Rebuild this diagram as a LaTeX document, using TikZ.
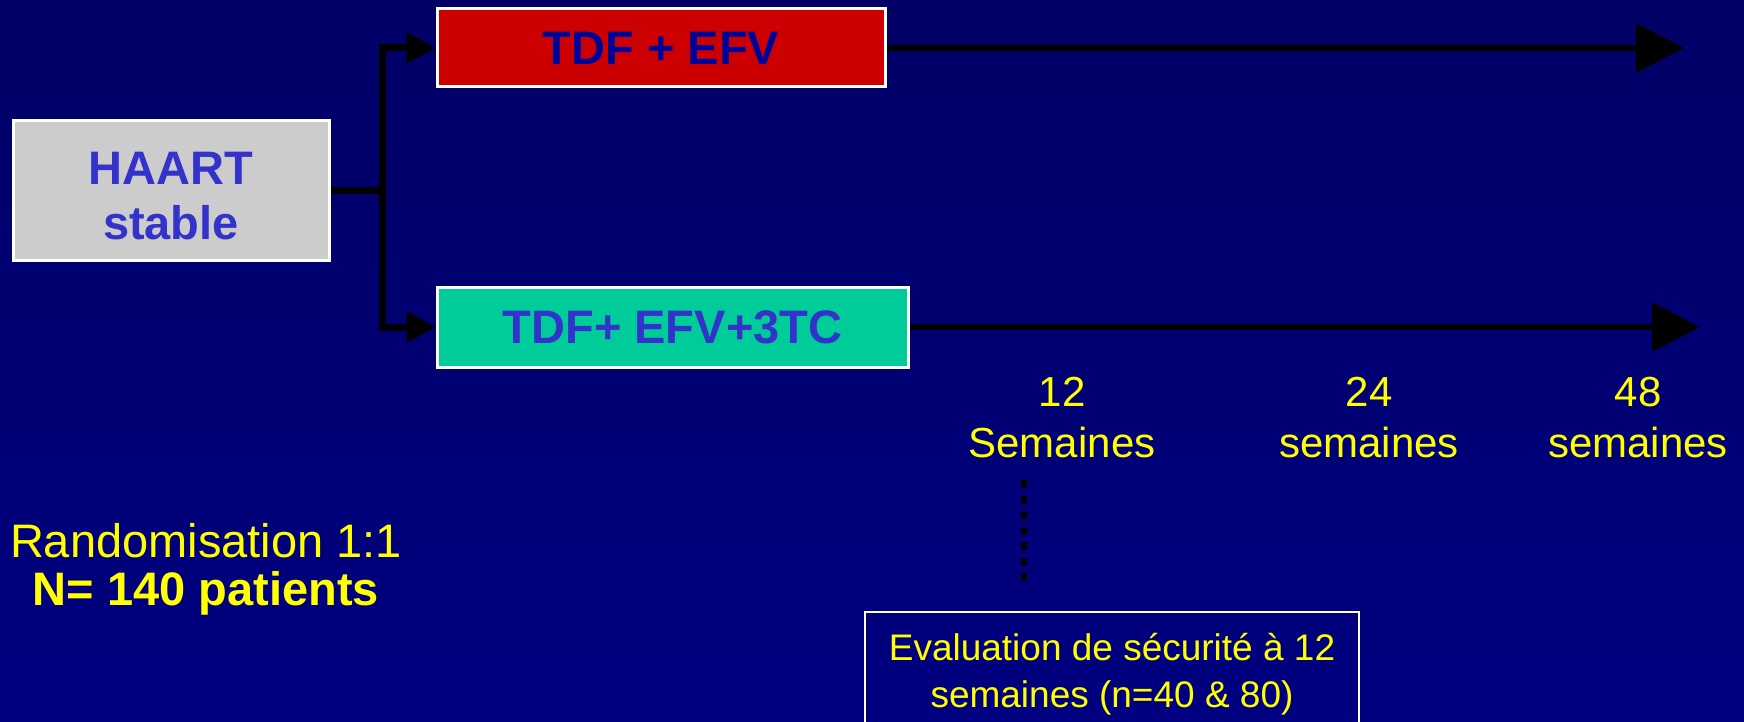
\documentclass[tikz,border=0pt]{standalone}
\usepackage{fontspec}
\setmainfont{Liberation Sans}
\usetikzlibrary{arrows.meta}
\definecolor{bgtop}{RGB}{0,0,102}
\definecolor{bgbot}{RGB}{0,0,128}
\definecolor{boxgray}{RGB}{204,204,204}
\definecolor{boxred}{RGB}{204,0,0}
\definecolor{boxgreen}{RGB}{0,204,153}
\definecolor{txtblue}{RGB}{51,51,204}
\definecolor{txtnavy}{RGB}{0,0,153}
\definecolor{txtyellow}{RGB}{255,255,0}
\tikzset{
  box/.style={draw=white, line width=1.5pt, inner sep=0pt, align=center, font=\fontsize{23.5}{27.5}\selectfont\bfseries},
  branch/.style={line width=3.5pt, -{Triangle[length=14.5pt,width=15pt]}},
  timeline/.style={line width=3.4pt, -{Triangle[length=24pt,width=24pt]}},
  ylabel/.style={text=txtyellow, align=center, inner sep=0pt},
}
\begin{document}
\begin{tikzpicture}[x=0.5pt,y=-0.5pt]
\useasboundingbox (0,0) rectangle (1744,722);
\shade[top color=bgtop, bottom color=bgbot] (0,0) rectangle (1744,722);

\node[box, fill=boxgray, minimum width=158pt, minimum height=69.5pt,
  label={[text=txtblue, align=center, inner sep=0pt, font=\fontsize{23.5}{27.5}\selectfont\bfseries, yshift=-2.6pt]center:HAART\\stable}] (haart) at (171,190.5) {};
\node[box, fill=boxred, text=txtnavy, minimum width=224pt, minimum height=39pt] (red) at (661,48) {TDF + EFV};
\node[box, fill=boxgreen, text=txtblue, minimum width=235.5pt, minimum height=40pt] (green) at (672.5,327) {TDF+ EFV+3TC};

\draw[branch] (haart.east) -- ++(52,0) |- (red.west);
\draw[branch] (haart.east) -- ++(52,0) |- (green.west);

\coordinate (end1) at (1684,48);
\coordinate (end2) at (1700,327);
\draw[timeline] (red.east) -- (end1);
\draw[timeline] (green.east) -- (end2);

\node[ylabel, font=\fontsize{21}{25.5}\selectfont] (w12) at (1062,418) {12\\Semaines};
\node[ylabel, font=\fontsize{21}{25.5}\selectfont] (w24) at (1369,418) {24\\semaines};
\node[ylabel, font=\fontsize{21}{25.5}\selectfont] (w48) at (1638,418) {48\\semaines};

\node[ylabel, font=\fontsize{23.5}{24}\selectfont] (rand) at (206,569.5) {Randomisation 1:1\\\textbf{N= 140 patients}};

\node[draw=white, line width=1pt, ylabel, minimum width=247pt, minimum height=62.5pt, font=\fontsize{18.5}{23.5}\selectfont] (eval) at (1112,674.5) {Evaluation de sécurité à 12\\semaines (n=40 \& 80)};

\coordinate (d1) at (1024,480);
\coordinate (d2) at (1024,583);
\draw[line width=3pt, dash pattern=on 4pt off 3.75pt] (d1) -- (d2);
\end{tikzpicture}
\end{document}
